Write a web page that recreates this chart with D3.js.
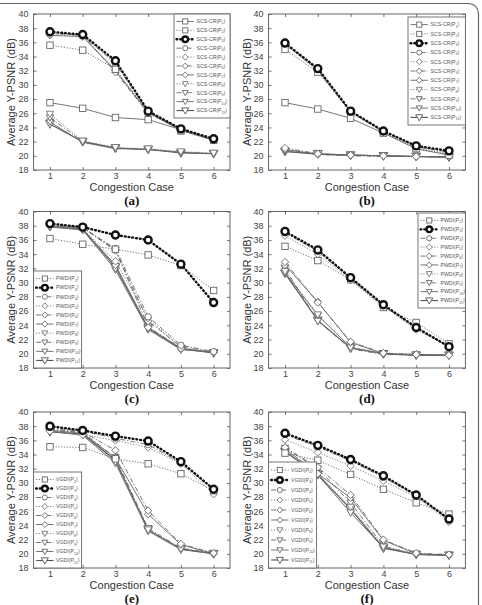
<!DOCTYPE html>
<html><head><meta charset="utf-8">
<script src="https://cdn.jsdelivr.net/npm/d3@7"></script>
<style>body{margin:0;background:#fff}svg{display:block}</style>
</head><body>
<script>
// ---------- DATA ----------
const cases = [1, 2, 3, 4, 5, 6];
const yTicks = [18, 20, 22, 24, 26, 28, 30, 32, 34, 36, 38, 40];
const panelLetters = ["(a)", "(b)", "(c)", "(d)", "(e)", "(f)"];
const prefixA = "SCS-CR", prefixC = "PWDI", prefixE = "VGDI";
const subsAB = [1, 2, 3, 4, 5, 6, 7, 8, 9, 10, 11];
const subsCF = [2, 3, 4, 5, 6, 7, 8, 9, 10, 11];

const valuesA = [
  [27.5, 26.7, 25.4, 25.1, 23.7, 22.3],
  [35.6, 34.9, 32.2, 26.2, 23.5, 22.2],
  [37.5, 37.1, 33.4, 26.3, 23.8, 22.4],
  [37.4, 37.0, 33.0, 26.2, 23.8, 22.3],
  [37.2, 36.9, 32.2, 26.1, 23.7, 22.3],
  [37.3, 37.0, 31.8, 26.0, 23.7, 22.2],
  [37.0, 36.8, 32.0, 26.1, 23.6, 22.2],
  [25.9, 22.1, 21.2, 21.0, 20.6, 20.4],
  [25.4, 22.0, 21.1, 20.9, 20.5, 20.3],
  [24.8, 21.9, 21.0, 20.9, 20.5, 20.3],
  [24.5, 22.0, 21.1, 20.9, 20.4, 20.3]
];
const valuesB = [
  [27.5, 26.6, 25.3, 23.2, 21.0, 20.1],
  [35.0, 31.8, 26.2, 23.3, 21.0, 20.2],
  [35.9, 32.3, 26.3, 23.5, 21.4, 20.7],
  [35.8, 32.1, 26.2, 23.5, 21.3, 20.5],
  [35.7, 32.0, 26.1, 23.4, 21.2, 20.3],
  [21.1, 20.3, 20.1, 20.0, 19.9, 19.9],
  [20.9, 20.2, 20.1, 20.0, 19.9, 19.8],
  [20.8, 20.3, 20.1, 20.0, 19.9, 19.8],
  [20.7, 20.2, 20.0, 19.9, 19.9, 19.8],
  [20.6, 20.2, 20.1, 20.0, 19.9, 19.9],
  [20.6, 20.3, 20.1, 20.0, 19.9, 19.8]
];
const valuesC = [
  [36.2, 35.4, 34.7, 33.9, 32.4, 28.9],
  [38.3, 37.8, 36.7, 36.0, 32.6, 27.2],
  [38.2, 37.7, 34.8, 25.2, 21.2, 20.3],
  [38.0, 37.6, 33.0, 25.0, 20.8, 20.2],
  [38.1, 37.7, 34.5, 24.6, 21.0, 20.2],
  [38.0, 37.5, 32.5, 23.7, 20.7, 20.2],
  [37.9, 37.6, 32.0, 23.5, 20.6, 20.2],
  [38.0, 37.8, 34.6, 23.8, 20.8, 20.1],
  [37.8, 37.4, 31.8, 23.4, 20.6, 20.2],
  [37.9, 37.5, 32.2, 23.6, 20.7, 20.1]
];
const valuesD = [
  [35.1, 33.1, 30.4, 26.5, 24.4, 21.4],
  [37.2, 34.6, 30.7, 26.9, 23.7, 21.0],
  [37.0, 34.4, 30.6, 26.8, 23.6, 21.0],
  [36.6, 34.0, 30.4, 26.7, 23.4, 21.0],
  [32.9, 27.2, 21.7, 20.1, 19.9, 19.8],
  [32.5, 27.3, 21.6, 20.0, 19.9, 19.8],
  [31.6, 25.5, 20.9, 20.0, 19.9, 19.8],
  [32.0, 24.6, 20.7, 19.9, 19.8, 19.8],
  [31.4, 25.4, 20.9, 20.0, 19.8, 19.8],
  [31.3, 24.7, 20.8, 20.0, 19.8, 19.8]
];
const valuesE = [
  [35.1, 35.0, 33.4, 32.7, 31.3, 28.9],
  [38.0, 37.4, 36.6, 35.9, 33.0, 29.1],
  [37.8, 37.3, 36.3, 35.4, 32.8, 29.0],
  [37.3, 36.8, 36.0, 35.0, 32.7, 28.4],
  [37.6, 37.2, 34.6, 26.1, 21.4, 20.1],
  [37.4, 37.0, 33.5, 25.6, 21.3, 20.0],
  [37.2, 36.8, 33.0, 23.4, 20.7, 20.0],
  [37.5, 37.1, 33.6, 23.6, 20.8, 20.1],
  [37.3, 36.7, 32.8, 23.2, 20.6, 20.0],
  [37.2, 36.9, 33.2, 23.4, 20.7, 20.0]
];
const valuesF = [
  [34.2, 33.2, 31.2, 29.1, 27.2, 25.6],
  [37.0, 35.3, 33.3, 31.0, 28.3, 24.9],
  [36.8, 35.1, 33.1, 30.8, 28.2, 24.8],
  [36.1, 34.3, 32.4, 30.3, 28.0, 24.5],
  [35.0, 32.2, 28.3, 22.0, 20.1, 19.9],
  [34.8, 31.3, 27.9, 21.9, 20.0, 19.8],
  [34.6, 31.2, 26.6, 21.0, 20.0, 19.8],
  [34.9, 32.0, 27.2, 21.1, 19.9, 19.8],
  [34.5, 31.1, 25.8, 20.9, 19.9, 19.8],
  [34.4, 31.2, 26.3, 20.8, 19.9, 19.8]
];

// ---------- STYLES (by series slot 1..11) ----------
const styleSlots = [
  {m: "square", dash: null, w: 0.9, c: "#666", s: 3.2},
  {m: "square", dash: "1.2,1.6", w: 0.9, c: "#666", s: 3.2},
  {m: "circle", dash: "0.8,3", w: 2.4, c: "#111", s: 3.5, bold: true},
  {m: "circle", dash: "5,2,1.2,2", w: 0.9, c: "#666", s: 3.2},
  {m: "diamond", dash: "1.2,1.6", w: 0.9, c: "#777", s: 3.7},
  {m: "diamond", dash: "5,2,1.2,2", w: 0.9, c: "#666", s: 3.7},
  {m: "diamond", dash: null, w: 0.9, c: "#666", s: 3.7},
  {m: "tri", dash: "1.2,1.6", w: 0.9, c: "#777", s: 3.7},
  {m: "tri", dash: "5,2,1.2,2", w: 0.9, c: "#666", s: 3.7},
  {m: "tri", dash: null, w: 0.9, c: "#666", s: 3.7},
  {m: "tri", dash: null, w: 1.1, c: "#555", s: 4.4}
];

const W = 482, H = 605;
const cols = [{x0: 33.6, x1: 230}, {x0: 268.6, x1: 465.4}];
const rows = [{y0: 14, y1: 170}, {y0: 211.5, y1: 368}, {y0: 412, y1: 568}];
const panels = [
  {vals: valuesA, subs: subsAB, prefix: prefixA, col: 0, row: 0, leg: {x: 174, y: 14, w: 56, h: 104}},
  {vals: valuesB, subs: subsAB, prefix: prefixA, col: 1, row: 0, leg: {x: 408, y: 17, w: 57.4, h: 108}},
  {vals: valuesC, subs: subsCF, prefix: prefixC, col: 0, row: 1, leg: {x: 33.6, y: 271, w: 48, h: 97}},
  {vals: valuesD, subs: subsCF, prefix: prefixC, col: 1, row: 1, leg: {x: 418, y: 213, w: 47.4, h: 95}},
  {vals: valuesE, subs: subsCF, prefix: prefixE, col: 0, row: 2, leg: {x: 33.6, y: 472, w: 48, h: 96}},
  {vals: valuesF, subs: subsCF, prefix: prefixE, col: 1, row: 2, leg: {x: 268.6, y: 462, w: 48, h: 106}}
];

const FONT = "'Liberation Sans', Arial, sans-serif";
const svg = d3.select("body").append("svg").attr("width", W).attr("height", H)
  .style("font-family", FONT);

// outer rounded frame
svg.append("rect").attr("x", -12).attr("y", 3.5).attr("width", 490.5).attr("height", 630)
  .attr("rx", 10).attr("fill", "none").attr("stroke", "#666").attr("stroke-width", 1.2);

function drawMarker(g, type, cx, cy, s, st) {
  let el;
  if (type === "square") {
    el = g.append("rect").attr("x", cx - s).attr("y", cy - s).attr("width", 2 * s).attr("height", 2 * s);
  } else if (type === "circle") {
    el = g.append("circle").attr("cx", cx).attr("cy", cy).attr("r", s);
  } else if (type === "diamond") {
    el = g.append("path").attr("d", `M${cx},${cy - s}L${cx + s},${cy}L${cx},${cy + s}L${cx - s},${cy}Z`);
  } else {
    el = g.append("path").attr("d", `M${cx - s},${cy - s * 0.75}L${cx + s},${cy - s * 0.75}L${cx},${cy + s}Z`);
  }
  el.attr("fill", "#fff").attr("stroke", st.c).attr("stroke-width", st.bold ? 2.4 : 0.9);
}

panels.forEach((p, pi) => {
  const c = cols[p.col], r = rows[p.row];
  const x = d3.scaleLinear().domain([0.5, 6.5]).range([c.x0, c.x1]);
  const y = d3.scaleLinear().domain([18, 40]).range([r.y1, r.y0]);
  const g = svg.append("g");

  // frame
  g.append("rect").attr("x", c.x0).attr("y", r.y0).attr("width", c.x1 - c.x0).attr("height", r.y1 - r.y0)
    .attr("fill", "#fff").attr("stroke", "#555").attr("stroke-width", 0.9);

  // axes with inward ticks
  const axL = g.append("g").attr("transform", `translate(${c.x0},0)`)
    .call(d3.axisLeft(y).tickValues(yTicks).tickSize(-3).tickPadding(5).tickFormat(d3.format("d")));
  const axR = g.append("g").attr("transform", `translate(${c.x1},0)`)
    .call(d3.axisRight(y).tickValues(yTicks).tickSize(-3).tickFormat(""));
  const axB = g.append("g").attr("transform", `translate(0,${r.y1})`)
    .call(d3.axisBottom(x).tickValues(cases).tickSize(-3).tickPadding(3).tickFormat(d3.format("d")));
  const axT = g.append("g").attr("transform", `translate(0,${r.y0})`)
    .call(d3.axisTop(x).tickValues(cases).tickSize(-3).tickFormat(""));
  [axL, axR, axB, axT].forEach(a => {
    a.select(".domain").remove();
    a.selectAll("line").attr("stroke", "#555").attr("stroke-width", 0.8);
    a.selectAll("text").attr("fill", "#444").style("font-size", "9px")
      .style("font-family", FONT);
  });

  // series
  const line = d3.line().x((d, i) => x(cases[i])).y(d => y(d));
  const order = p.vals.map((v, i) => i);
  const boldIdx = order.find(i => styleSlots[p.subs[i] - 1].bold);
  const drawOrder = order.filter(i => i !== boldIdx).reverse().concat([boldIdx]);
  drawOrder.forEach(i => {
    const st = styleSlots[p.subs[i] - 1];
    const sg = g.append("g");
    sg.append("path").attr("d", line(p.vals[i])).attr("fill", "none")
      .attr("stroke", st.c).attr("stroke-width", st.w)
      .attr("stroke-dasharray", st.dash).attr("stroke-linecap", st.bold ? "round" : "butt");
    p.vals[i].forEach((v, k) => drawMarker(sg, st.m, x(cases[k]), y(v), st.s, st));
  });

  // legend
  const L = p.leg;
  const lg = g.append("g");
  lg.append("rect").attr("x", L.x).attr("y", L.y).attr("width", L.w).attr("height", L.h)
    .attr("fill", "#fff").attr("stroke", "#666").attr("stroke-width", 0.9);
  const n = p.vals.length;
  const step = (L.h - 6) / n;
  p.subs.forEach((sub, i) => {
    const st = styleSlots[sub - 1];
    const ly = L.y + 3 + step * (i + 0.5);
    const lx0 = L.x + 2.5, lx1 = L.x + 20;
    lg.append("line").attr("x1", lx0).attr("x2", lx1).attr("y1", ly).attr("y2", ly)
      .attr("stroke", st.c).attr("stroke-width", st.w).attr("stroke-dasharray", st.dash)
      .attr("stroke-linecap", st.bold ? "round" : "butt");
    drawMarker(lg, st.m, (lx0 + lx1) / 2, ly, st.s * 0.8, st);
    const t = lg.append("text").attr("x", lx1 + 2.5).attr("y", ly + 1.8)
      .attr("fill", "#555").style("font-size", "5.2px");
    t.append("tspan").text(p.prefix + "(P");
    t.append("tspan").attr("dy", 1.2).style("font-size", "3.6px").text(sub);
    t.append("tspan").attr("dy", -1.2).text(")");
  });

  // labels
  const cx = (c.x0 + c.x1) / 2;
  svg.append("text").attr("x", cx).attr("y", r.y1 + 20.5).attr("text-anchor", "middle")
    .attr("fill", "#333").style("font-size", "11px").text("Congestion Case");
  svg.append("text").attr("x", cx).attr("y", r.y1 + 35).attr("text-anchor", "middle")
    .attr("fill", "#111").style("font-family", "'Liberation Serif', 'Times New Roman', serif")
    .style("font-weight", "bold").style("font-size", "13px").text(panelLetters[pi]);
  const ylx = p.col === 0 ? 15 : 251;
  svg.append("text").attr("transform", `translate(${ylx},${(r.y0 + r.y1) / 2}) rotate(-90)`)
    .attr("text-anchor", "middle").attr("fill", "#333").style("font-size", "11px")
    .text("Average Y-PSNR (dB)");
});
</script>
</body></html>
